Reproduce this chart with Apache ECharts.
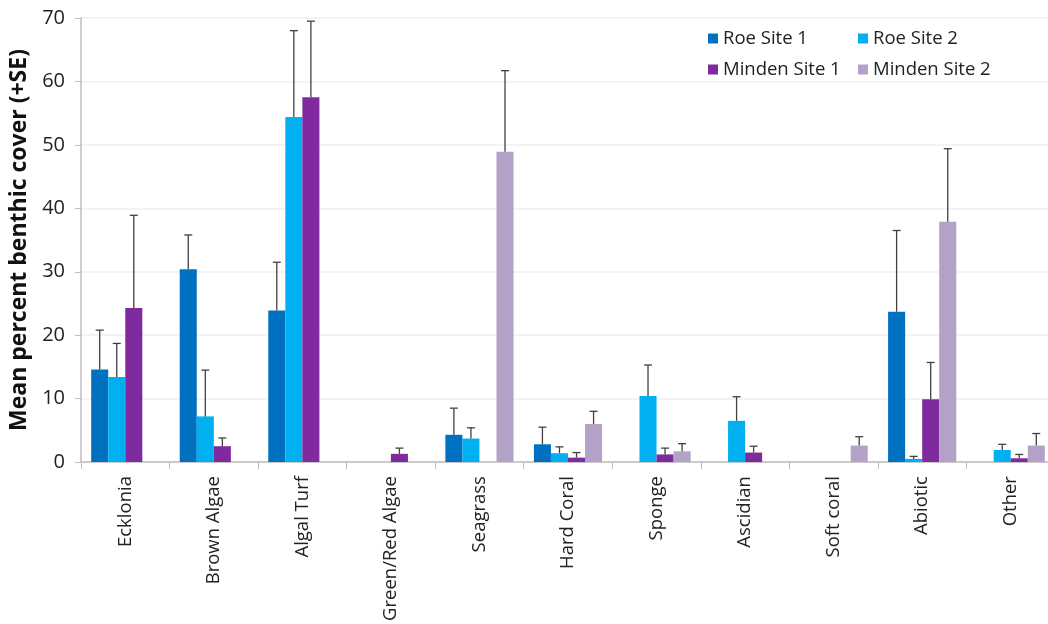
<!DOCTYPE html>
<html>
<head>
<meta charset="utf-8">
<script src="https://cdn.jsdelivr.net/npm/echarts@6/dist/echarts.min.js"></script>
<style>
  html, body { margin: 0; padding: 0; background: #fff; overflow: hidden; }
  #chart { width: 1056px; height: 624px; }
</style>
</head>
<body>
<div id="chart"></div>
<script>
// Benthic cover categories
const categories = ['Ecklonia', 'Brown Algae', 'Algal Turf', 'Green/Red Algae', 'Seagrass',
  'Hard Coral', 'Sponge', 'Ascidian', 'Soft coral', 'Abiotic', 'Other'];

// Mean percent cover per site
const roeSite1     = [14.6, 30.4, 23.9, 0,   4.3,  2.8, 0,    0,   0,   23.7, 0];
const roeSite2     = [13.4, 7.2,  54.4, 0,   3.7,  1.4, 10.4, 6.5, 0,   0.5,  1.9];
const mindenSite1  = [24.3, 2.5,  57.5, 1.3, 0,    0.7, 1.2,  1.5, 0,   9.9,  0.6];
const mindenSite2  = [0,    0,    0,    0,   48.9, 6.0, 1.7,  0,   2.6, 37.9, 2.6];

// Standard errors per site
const roeSite1Se    = [6.2,  5.4,  7.6,  0,   4.2,  2.7, 0,   0,   0,   12.8, 0];
const roeSite2Se    = [5.3,  7.3,  13.6, 0,   1.7,  1.0, 4.9, 3.8, 0,   0.4,  0.9];
const mindenSite1Se = [14.6, 1.3,  12.0, 0.9, 0,    0.8, 1.0, 1.0, 0,   5.8,  0.6];
const mindenSite2Se = [0,    0,    0,    0,   12.8, 2.0, 1.2, 0,   1.4, 11.5, 1.9];

const yTicks = { min: 0, max: 70, interval: 10 };

const siteNames = ['Roe Site 1', 'Roe Site 2', 'Minden Site 1', 'Minden Site 2'];
const siteColors = ['#0070C0', '#00B0F0', '#7F2B9F', '#B4A1C8'];
const means = [roeSite1, roeSite2, mindenSite1, mindenSite2];
const errors = [roeSite1Se, roeSite2Se, mindenSite1Se, mindenSite2Se];

const CAT_GAP = 0.23;
const FONT = "'Open Sans', 'Liberation Sans', sans-serif";

const barSeries = siteNames.map((name, i) => ({
  name: name,
  type: 'bar',
  data: means[i],
  barGap: '0%',
  barCategoryGap: (CAT_GAP * 100) + '%',
  itemStyle: { color: siteColors[i] },
  z: 2
}));

// Upward error bars (+SE) placed over each bar of the group
const errorSeries = siteNames.map((name, i) => ({
  name: name + ' SE',
  type: 'custom',
  z: 3,
  silent: true,
  data: means[i].map((m, k) => [k, m, m + errors[i][k], errors[i][k]]),
  encode: { x: 0, y: 2 },
  renderItem: function (params, api) {
    if (api.value(3) <= 0) return null;
    const k = api.value(0);
    const base = api.coord([k, api.value(1)]);
    const top = api.coord([k, api.value(2)]);
    const band = api.size([1, 0])[0];
    const barW = band * (1 - CAT_GAP) / 4;
    const x = base[0] + (i - 1.5) * barW;
    const cap = 4;
    const style = { stroke: '#404040', lineWidth: 1.3 };
    return {
      type: 'group',
      children: [
        { type: 'line', shape: { x1: x, y1: base[1], x2: x, y2: top[1] }, style: style },
        { type: 'line', shape: { x1: x - cap, y1: top[1], x2: x + cap, y2: top[1] }, style: style }
      ]
    };
  }
}));

const legendCommon = {
  orient: 'vertical',
  icon: 'rect',
  itemWidth: 10,
  itemHeight: 10,
  itemGap: 10,
  textStyle: { fontFamily: FONT, fontSize: 18.5, color: '#222', lineHeight: 21 }
};

const chart = echarts.init(document.getElementById('chart'), null, { renderer: 'canvas' });
chart.setOption({
  animation: false,
  backgroundColor: '#fff',
  grid: { left: 81, right: 1, top: 18, bottom: 161 },
  legend: [
    Object.assign({ left: 703, top: 23, data: [siteNames[0], siteNames[2]] }, legendCommon),
    Object.assign({ left: 853, top: 23, data: [siteNames[1], siteNames[3]] }, legendCommon)
  ],
  xAxis: {
    type: 'category',
    data: categories,
    axisLine: { lineStyle: { color: '#BFBFBF', width: 1.5 } },
    axisTick: { show: true, length: 7, lineStyle: { color: '#BFBFBF' } },
    axisLabel: { rotate: 90, margin: 14, fontFamily: FONT, fontSize: 18.5, color: '#222', interval: 0 }
  },
  yAxis: {
    type: 'value',
    min: yTicks.min,
    max: yTicks.max,
    interval: yTicks.interval,
    name: 'Mean percent benthic cover (+SE)',
    nameLocation: 'middle',
    nameRotate: 90,
    nameGap: 42,
    nameTextStyle: { fontFamily: FONT, fontSize: 23, fontWeight: 'bold', color: '#111' },
    axisLine: { show: true, lineStyle: { color: '#BFBFBF', width: 1.5 } },
    axisTick: { show: true, length: 6, lineStyle: { color: '#BFBFBF' } },
    axisLabel: { margin: 16, fontFamily: FONT, fontSize: 20, color: '#222' },
    splitLine: { lineStyle: { color: '#EFEFEF', width: 1.5 } }
  },
  series: barSeries.concat(errorSeries)
});
</script>
</body>
</html>
